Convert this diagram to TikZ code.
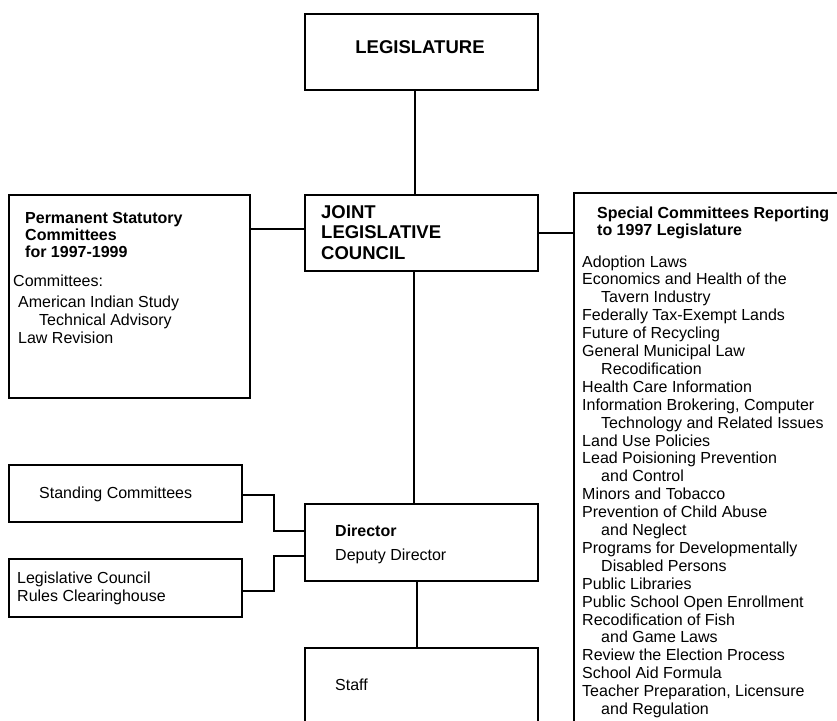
\documentclass[tikz,border=0pt]{standalone}
\usepackage{fontspec}
\setmainfont{Liberation Sans}
\usetikzlibrary{positioning}
\tikzset{
  box/.style={rectangle, draw=black, line width=2pt, anchor=north west, inner sep=0pt},
  txt/.style={anchor=base west, inner sep=0pt, align=left, font=\fontsize{16}{17.8}\selectfont},
  hdr/.style={txt, font=\fontsize{16}{17}\selectfont\bfseries},
  big/.style={txt, font=\fontsize{18.5}{20.5}\selectfont\bfseries},
  conn/.style={line width=2pt, color=black}
}

\begin{document}
\begin{tikzpicture}[x=1pt, y=-1pt]
  \useasboundingbox (0,0) rectangle (837,720);
  \clip (0,0) rectangle (837,720);

  % Boxes
  \node[box, minimum width=233pt, minimum height=76pt] (legis) at (304,13) {};
  \node[box, minimum width=233pt, minimum height=76pt] (jlc) at (304,194) {};
  \node[box, minimum width=241pt, minimum height=203pt] (perm) at (8,194) {};
  \node[box, minimum width=280pt, minimum height=545pt] (special) at (573,192) {};
  \node[box, minimum width=233pt, minimum height=57pt] (standing) at (8,464) {};
  \node[box, minimum width=233pt, minimum height=58pt] (rules) at (8,558) {};
  \node[box, minimum width=233pt, minimum height=77pt] (director) at (304,503) {};
  \node[box, minimum width=233pt, minimum height=90pt] (staff) at (304,647) {};

  % Box texts (multi-line nodes sit on their last baseline)
  \node[big, anchor=base] (legistxt) at (420,53) {LEGISLATURE};
  \node[big] (jlctxt) at (321,259) {JOINT\\LEGISLATIVE\\COUNCIL};

  \node[hdr] (permhdr) at (25,257) {Permanent Statutory\\Committees\\for 1997-1999};
  \node[txt] (permlbl) at (13,286) {Committees:};
  \node[txt] (permlist) at (18,343) {American Indian Study\\\hspace*{21pt}Technical Advisory\\Law Revision};

  \node[hdr] (spechdr) at (597,235) {Special Committees Reporting\\to 1997 Legislature};
  \foreach \dx/\itm [count=\i] in {0/Adoption Laws, 0/Economics and Health of the,
      19/Tavern Industry, 0/Federally Tax-Exempt Lands, 0/Future of Recycling,
      0/General Municipal Law, 19/Recodification, 0/Health Care Information,
      {0/Information Brokering, Computer}, 19/Technology and Related Issues,
      0/Land Use Policies, 0/Lead Poisioning Prevention, 19/and Control,
      0/Minors and Tobacco, 0/Prevention of Child Abuse, 19/and Neglect,
      0/Programs for Developmentally, 19/Disabled Persons, 0/Public Libraries,
      0/Public School Open Enrollment, 0/Recodification of Fish, 19/and Game Laws,
      0/Review the Election Process, 0/School Aid Formula,
      {0/Teacher Preparation, Licensure}, 19/and Regulation}
    \node[txt] (spec\i) at (582+\dx, 267+17.9*\i-17.9) {\itm};

  \node[txt] (standtxt) at (39,498) {Standing Committees};
  \node[txt] (rulestxt) at (17,601) {Legislative Council\\Rules Clearinghouse};
  \node[hdr] (dirtxt) at (335,536) {Director};
  \node[txt] (deptxt) at (335,560) {Deputy Director};
  \node[txt] (stafftxt) at (335,690) {Staff};

  % Connectors
  \draw[conn] ([xshift=-6.5pt]legis.south) -- ([xshift=-6.5pt]jlc.north);
  \draw[conn] ([yshift=4pt]jlc.west) -- ([yshift=4pt]jlc.west -| perm.east);
  \draw[conn] (jlc.east) -- (jlc.east -| special.west);
  \draw[conn] ([xshift=-8pt]jlc.south) -- ([xshift=-8pt]director.north);
  \draw[conn] ([xshift=-4.5pt]director.south) -- ([xshift=-4.5pt]staff.north);
  \draw[conn] ([yshift=-1.5pt]standing.east) -- ++(31,0) |- ([yshift=11.5pt]director.west);
  \draw[conn] ([yshift=-3pt]rules.east) -- ++(31,0) |- ([yshift=-13.5pt]director.west);
\end{tikzpicture}
\end{document}
